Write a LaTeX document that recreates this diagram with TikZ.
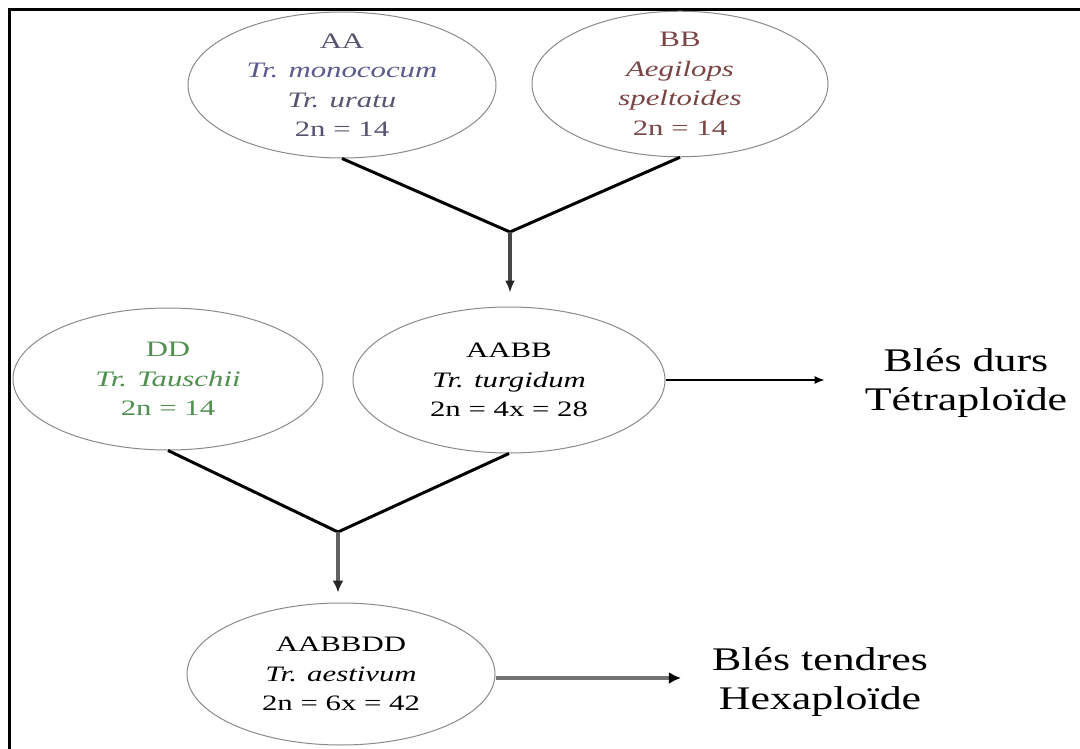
\documentclass[tikz,border=0pt]{standalone}
\usepackage{fontspec}
\setmainfont{Liberation Serif}
\newfontfamily\efont{Liberation Serif}[FakeStretch=1.40]
\newfontfamily\bfont{Liberation Serif}[FakeStretch=1.33]
\usetikzlibrary{shapes.geometric,arrows.meta}
\definecolor{aacol}{HTML}{55556F}
\definecolor{aaital}{HTML}{5A5A8C}
\definecolor{bbcol}{HTML}{7A4545}
\definecolor{ddcol}{HTML}{4F8F4F}
\definecolor{ringcol}{HTML}{8A8A8A}
\tikzset{
  gen/.style={ellipse, draw=ringcol, line width=1pt, inner sep=0pt, align=center,
    font=\efont\fontsize{22}{29.5}\selectfont},
  big/.style={inner sep=0pt, align=center, font=\bfont\fontsize{33}{39}\selectfont},
  joinline/.style={line width=3pt, black},
  vertA/.style={line width=3.5pt, draw=black!72, -{Latex[length=12pt,width=10pt,color=black!85]}},
  vertB/.style={line width=4.5pt, draw=black!62, -{Latex[length=12pt,width=11pt,color=black!85]}},
  thinarrow/.style={line width=1.6pt, black, -{Latex[length=10pt,width=8pt]}},
  thickarrow/.style={line width=4.5pt, draw=black!55, -{Latex[length=12pt,width=12pt,color=black]}},
}
\begin{document}
\begin{tikzpicture}[x=1pt,y=-1pt]
\useasboundingbox (0,0) rectangle (1080,749);
\fill[white] (0,0) rectangle (1080,749);
\draw[line width=3pt, line cap=rect] (9,752) -- (9,10) -- (1082,10);

\node[gen, minimum width=308pt, minimum height=146pt] (AA) at (342,85)
  {\textcolor{aacol}{AA}\\ \textcolor{aaital}{\itshape Tr. monococum}\\ \textcolor{aacol}{\itshape Tr. uratu}\\ \textcolor{aacol}{2n = 14}};
\node[gen, minimum width=296pt, minimum height=144pt, text=bbcol] (BB) at (680,84)
  {BB\\ \itshape Aegilops\\ \itshape speltoides\\ 2n = 14};
\node[gen, minimum width=310pt, minimum height=142pt, text=ddcol] (DD) at (168,379)
  {DD\\ \itshape Tr. Tauschii\\ 2n = 14};
\node[gen, minimum width=312pt, minimum height=146pt] (AABB) at (509,380)
  {AABB\\ \itshape Tr. turgidum\\ 2n = 4x = 28};
\node[gen, minimum width=308pt, minimum height=142pt] (AABBDD) at (341,674)
  {AABBDD\\ \itshape Tr. aestivum\\ 2n = 6x = 42};

\node[big] (t1) at (966,383) {Blés durs\\ Tétraploïde};
\node[big] (t2) at (820,682) {Blés tendres\\ Hexaploïde};

\coordinate (j1) at (510,232);
\coordinate (j2) at (338,532);

\draw[joinline] (AA.south) -- (j1) -- (BB.south);
\draw[vertA, shorten >=14pt] (j1) -- (j1 |- AABB.north);
\draw[joinline] (DD.south) -- (j2) -- (AABB.south);
\draw[vertB, shorten >=10pt] (j2) -- (j2 |- AABBDD.north);

\draw[thinarrow, shorten >=40pt] (AABB.east) -- (AABB.east -| t1.west);
\draw[thickarrow, shorten >=31pt] ([yshift=-4pt]AABBDD.east) -- ([yshift=-4pt]AABBDD.east -| t2.west);
\end{tikzpicture}
\end{document}
